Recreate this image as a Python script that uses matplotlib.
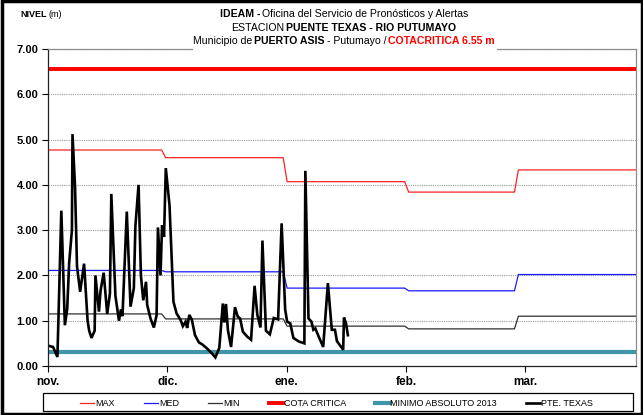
import numpy as np
import matplotlib
matplotlib.use("Agg")
import matplotlib.pyplot as plt
from matplotlib.patches import Rectangle

plt.rcParams['font.family'] = ['Liberation Sans Narrow', 'Liberation Sans', 'DejaVu Sans']

# monthly reference levels (nov, dic, ene, feb, mar)
month_start = [0, 30, 61, 92, 120]
last_day = 150
nivel_max = [4.77, 4.60, 4.07, 3.84, 4.33]
nivel_med = [2.11, 2.08, 1.72, 1.66, 2.02]
nivel_min = [1.15, 1.04, 0.88, 0.82, 1.10]
cota_critica = 6.55
minimo_2013 = 0.32

month_labels = ['nov.', 'dic.', 'ene.', 'feb.', 'mar.']
month_ticks = [0, 30.45, 60.9, 91.35, 121.8]

# station readings, days counted from 1 nov
pte_day = [0.0, 1.3, 2.4, 3.4, 4.3, 4.9, 5.4, 6.1, 6.25, 6.9, 7.4, 8.2, 9.2,
           10.1, 10.5, 11.1, 11.9, 12.1, 13.0, 13.4, 14.2, 15.1, 15.8, 16.15,
           17.2, 18.1, 18.6, 19.0, 20.1, 21.05, 21.9, 22.3, 23.1, 23.7, 24.3,
           25.0, 25.3, 26.15, 27.0, 27.7, 28.05, 28.7, 29.1, 29.6, 30.05, 31.0,
           32.0, 32.8, 33.8, 34.4, 35.1, 35.5, 36.05, 36.7, 37.5, 38.5, 39.3,
           40.4, 41.6, 42.7, 43.7, 44.6, 45.0, 45.4, 45.9, 46.7, 47.7, 48.4,
           49.0, 49.7, 50.8, 51.8, 52.7, 53.4, 54.2, 54.7, 55.6, 56.6, 57.6,
           58.7, 59.6, 60.5, 61.0, 61.8, 62.6, 64.0, 65.4, 65.65, 66.45, 67.2,
           67.7, 68.2, 69.0, 70.2, 71.4, 72.4, 73.2, 73.7, 75.3, 75.5, 76.0, 76.5]
pte_nivel = [0.45, 0.42, 0.20, 3.43, 0.90, 1.26, 2.28, 3.00, 5.12, 3.95, 2.20,
             1.64, 2.26, 1.00, 0.78, 0.62, 0.78, 2.00, 1.20, 1.66, 2.06, 1.15,
             1.60, 3.80, 1.55, 1.00, 1.25, 1.10, 3.41, 1.31, 1.72, 3.10, 4.00,
             2.00, 1.45, 1.86, 1.35, 1.05, 0.85, 1.12, 3.06, 2.00, 3.11, 2.85,
             4.37, 3.55, 1.42, 1.16, 1.02, 0.88, 0.98, 0.84, 1.13, 1.02, 0.68,
             0.52, 0.48, 0.40, 0.30, 0.19, 0.40, 1.38, 0.96, 1.37, 0.79, 0.42,
             1.30, 1.09, 1.05, 0.76, 0.65, 0.58, 1.77, 1.13, 0.85, 2.77, 0.78,
             0.70, 1.06, 1.03, 3.15, 1.25, 0.98, 0.94, 0.62, 0.54, 0.50, 4.31,
             1.05, 0.98, 0.80, 0.83, 0.66, 0.42, 1.83, 0.80, 0.80, 0.55, 0.36,
             1.07, 0.95, 0.68]


def monthly_steps(values):
    xs, ys = [], []
    ends = month_start[1:] + [last_day + 1]
    for start, end, v in zip(month_start, ends, values):
        xs += [start, end - 1]
        ys += [v, v]
    return xs, ys


W, H = 643, 415
fig = plt.figure(figsize=(W / 100, H / 100), dpi=100)
ax = fig.add_axes([48 / W, 1 - 366 / H, (636 - 48) / W, (366 - 49) / H])

ax.set_xlim(0, last_day)
ax.set_ylim(0, 7)
ax.set_yticks(np.arange(0, 8, 1))
ax.set_yticklabels(['%.2f' % v for v in np.arange(0, 8, 1)], fontweight='bold', fontsize=8)
ax.set_xticks(month_ticks)
ax.set_xticklabels(month_labels, fontweight='bold', fontsize=8.5)
ax.tick_params(axis='y', direction='out', length=4, width=0.8, pad=3)
ax.tick_params(axis='x', direction='out', length=4, width=0.8, pad=3)
ax.yaxis.grid(True, color='#9a9a9a', linestyle=(0, (1, 1)), linewidth=0.8)
ax.set_axisbelow(True)
for side in ['top', 'right']:
    ax.spines[side].set_color('#8c8c8c')
    ax.spines[side].set_linewidth(0.9)
for side in ['left', 'bottom']:
    ax.spines[side].set_color('#222222')
    ax.spines[side].set_linewidth(0.9)

x, y = monthly_steps(nivel_max)
ax.plot(x, y, color='#ff2020', lw=0.9, label='MAX')
x, y = monthly_steps(nivel_med)
ax.plot(x, y, color='#1a1aff', lw=0.9, label='MED')
x, y = monthly_steps(nivel_min)
ax.plot(x, y, color='#303030', lw=0.9, label='MIN')
ax.axhline(cota_critica, color='#ff0000', lw=2.8, label='COTA CRITICA')
ax.axhline(minimo_2013, color='#3f95aa', lw=3.0, label='MINIMO ABSOLUTO 2013')
ax.plot(pte_day, pte_nivel, color='black', lw=1.9, solid_joinstyle='miter',
        label='PTE. TEXAS')

# legend entries spread inside a separately drawn box
leg = ax.legend(loc='lower left', bbox_to_anchor=(78 / W, 1 - 410 / H, (595 - 78) / W, 16 / H),
                bbox_transform=fig.transFigure, mode='expand', ncol=6, fontsize=6.5,
                handlelength=1.6, handletextpad=0.1, borderaxespad=0, borderpad=0.2,
                frameon=False)
fig.patches.append(Rectangle((43 / W, 1 - 411 / H), (633 - 43) / W, 18 / H,
                             transform=fig.transFigure, facecolor='none',
                             edgecolor='black', lw=0.9, zorder=4))

# white box behind the title, interrupting the plot border
fig.patches.append(Rectangle((193 / W, 1 - 51 / H), (497 - 193) / W, 46 / H,
                             transform=fig.transFigure, facecolor='white',
                             edgecolor='none', zorder=5))

renderer = fig.canvas.get_renderer()


def mixed_line(x_px, y_px, parts, size, align='center', gap=2.0):
    texts = []
    for s, w, c in parts:
        texts.append(fig.text(0, 1 - y_px / H, s, fontsize=size, fontweight=w,
                              color=c, va='baseline', ha='left', zorder=6))
    widths = [t.get_window_extent(renderer).width for t in texts]
    total = sum(widths) + gap * (len(texts) - 1)
    pos = x_px - total / 2 if align == 'center' else x_px
    for t, wd in zip(texts, widths):
        t.set_x(pos / W)
        pos += wd + gap


mixed_line(344, 17, [('IDEAM -', 'bold', 'black'),
                     ('Oficina del Servicio de Pronósticos y Alertas', 'normal', 'black')], 7.6)
mixed_line(344, 31, [('ESTACION', 'normal', 'black'),
                     ('PUENTE TEXAS - RIO PUTUMAYO', 'bold', 'black')], 7.6)
mixed_line(344, 44, [('Municipio de', 'normal', 'black'),
                     ('PUERTO ASIS', 'bold', 'black'),
                     ('- Putumayo /', 'normal', 'black'),
                     ('COTACRITICA 6.55 m', 'bold', '#ff0000')], 7.6)
mixed_line(20, 17, [('NIVEL', 'bold', 'black'), ('(m)', 'normal', 'black')], 6.5,
           align='left', gap=1.5)

# chart area border
fig.patches.append(Rectangle((1.5 / W, 1.5 / H), (W - 3) / W, (H - 3) / H,
                             transform=fig.transFigure, facecolor='none',
                             edgecolor='black', lw=2.5, zorder=10))

fig.savefig('out.png', dpi=100)
